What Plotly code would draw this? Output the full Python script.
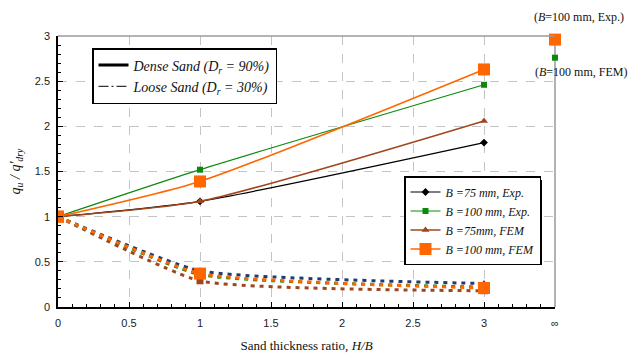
import plotly.graph_objects as go

# ---- data ----
x_ratio = [0, 1, 3]
x_inf = [3.5]

dense_b75_exp = [1.0, 1.17, 1.82]
dense_b100_exp = [1.0, 1.52, 2.46]
dense_b75_fem = [1.0, 1.17, 2.06]
dense_b100_fem = [1.0, 1.39, 2.63]

loose_b75_exp = [1.0, 0.40, 0.26]
loose_b100_exp = [1.0, 0.36, 0.22]
loose_b75_fem = [1.0, 0.29, 0.18]
loose_b100_fem = [1.0, 0.37, 0.21]

inf_b100_exp = [2.76]
inf_b100_fem = [2.96]

x_tickvals = [0, 0.5, 1, 1.5, 2, 2.5, 3, 3.5]
x_ticktext = ["0", "0.5", "1", "1.5", "2", "2.5", "3", "∞"]
y_tickvals = [0, 0.5, 1, 1.5, 2, 2.5, 3]

names = ["<i>B =75 mm, Exp.</i>", "<i>B =100 mm, Exp.</i>",
         "<i>B =75mm, FEM</i>", "<i>B =100 mm, FEM</i>"]

C_BLACK = "#000000"
C_GREEN = "#0a8a0a"
C_BROWN = "#a0461e"
C_ORANGE = "#ff6600"
C_NAVY = "#1f3c6e"
C_PURPLE = "#7a2a9a"

SERIF = "Liberation Serif"
SANS = "Liberation Sans"

# page body has an 8px margin: plot area placed at page px 58..555 x 36..307
PL, PT, PW, PH = 58, 36, 497, 271


def px(xp):
    return (xp - PL) / PW


def py(yp):
    return (PT + PH - yp) / PH


fig = go.Figure()

# loose sand (dotted, drawn first)
loose = [
    (loose_b75_exp, C_NAVY, "triangle-up", 7, C_PURPLE),
    (loose_b100_exp, C_GREEN, "square", 6, C_GREEN),
    (loose_b75_fem, C_BROWN, "square", 7, C_BROWN),
    (loose_b100_fem, C_ORANGE, "square", 12, C_ORANGE),
]
for ys, col, sym, sz, mcol in loose:
    fig.add_trace(go.Scatter(
        x=x_ratio, y=ys, mode="lines+markers", showlegend=False,
        line=dict(color=col, width=3, dash="4px,5px", shape="spline", smoothing=0.45),
        marker=dict(symbol=sym, size=sz, color=mcol)))

# dense sand (solid)
dense = [
    (dense_b75_exp, C_BLACK, "diamond", 6, 1.2, names[0]),
    (dense_b100_exp, C_GREEN, "square", 6, 1.2, names[1]),
    (dense_b75_fem, C_BROWN, "triangle-up", 7, 1.6, names[2]),
    (dense_b100_fem, C_ORANGE, "square", 12, 1.6, names[3]),
]
for ys, col, sym, sz, lw, nm in dense:
    fig.add_trace(go.Scatter(
        x=x_ratio, y=ys, mode="lines+markers", name=nm, legend="legend",
        line=dict(color=col, width=lw, shape="spline", smoothing=0.6),
        marker=dict(symbol=sym, size=sz, color=col)))

# infinity points
fig.add_trace(go.Scatter(x=x_inf, y=inf_b100_exp, mode="markers", showlegend=False,
                         marker=dict(symbol="square", size=6, color=C_GREEN), cliponaxis=False))
fig.add_trace(go.Scatter(x=x_inf, y=inf_b100_fem, mode="markers", showlegend=False,
                         marker=dict(symbol="square", size=12, color=C_ORANGE), cliponaxis=False))

# density legend (dummy entries)
fig.add_trace(go.Scatter(x=[None], y=[None], mode="lines", legend="legend2",
                         name="<i>Dense Sand (D<sub>r</sub> = 90%)</i>",
                         line=dict(color="black", width=3)))
fig.add_trace(go.Scatter(x=[None], y=[None], mode="lines", legend="legend2",
                         name="<i>Loose Sand (D<sub>r</sub> = 30%)</i>",
                         line=dict(color="black", width=1, dash="10px,3px,2px,3px")))

# frame (top & right grey)
fig.add_shape(type="line", xref="paper", yref="paper", x0=0, x1=1, y0=1, y1=1,
              line=dict(color="#9a9a9a", width=1.5))
fig.add_shape(type="line", xref="paper", yref="paper", x0=1, x1=1, y0=0, y1=1,
              line=dict(color="#9a9a9a", width=1.5), layer="below")
# shadow of series legend
fig.add_shape(type="rect", xref="paper", yref="paper",
              x0=px(408), x1=px(542), y0=py(265), y1=py(180),
              fillcolor="black", line=dict(width=0))

fig.add_annotation(x=px(579), y=py(17), xref="paper", yref="paper",
                   xanchor="center", yanchor="middle",
                   text="(<i>B</i>=100 mm, Exp.)", showarrow=False,
                   font=dict(family=SERIF, size=12, color="#111"))
fig.add_annotation(x=px(581), y=py(72), xref="paper", yref="paper",
                   xanchor="center", yanchor="middle",
                   text="(<i>B</i>=100 mm, FEM)", showarrow=False,
                   font=dict(family=SERIF, size=12, color="#111"))

fig.update_layout(
    width=630, height=348,
    margin=dict(l=PL - 8, r=630 - (PL - 8) - PW, t=PT - 8, b=348 - (PT - 8) - PH,
                autoexpand=False),
    paper_bgcolor="white", plot_bgcolor="white",
    font=dict(family=SANS, size=11, color="#1a1a1a"),
    legend=dict(x=px(404), y=py(176), xanchor="left", yanchor="top",
                bgcolor="white", bordercolor="black", borderwidth=1.5,
                font=dict(family=SERIF, size=12, color="#111"),
                itemwidth=30, tracegroupgap=0),
    legend2=dict(x=px(92), y=py(48), xanchor="left", yanchor="top",
                 bgcolor="white", bordercolor="black", borderwidth=1.5,
                 font=dict(family=SERIF, size=14, color="#111"),
                 itemwidth=30),
    xaxis=dict(range=[0, 3.5], tickvals=x_tickvals, ticktext=x_ticktext,
               showline=True, linecolor="black", linewidth=1.5,
               ticks="inside", ticklen=5, tickcolor="black",
               minor=dict(dtick=0.1, ticks="inside", ticklen=3, tickcolor="black", showgrid=False),
               showgrid=True, gridcolor="#c4c4c4", griddash="dash", gridwidth=1,
               zeroline=False, ticklabelstandoff=5, automargin=False,
               title=dict(text="Sand thickness ratio, <i>H/B</i>",
                          font=dict(family=SERIF, size=13, color="#111"), standoff=13)),
    yaxis=dict(range=[0, 3], tickvals=y_tickvals,
               showline=True, linecolor="black", linewidth=1.5,
               ticks="inside", ticklen=5, tickcolor="black",
               minor=dict(dtick=0.1, ticks="inside", ticklen=3, tickcolor="black", showgrid=False),
               showgrid=True, gridcolor="#c4c4c4", griddash="dash", gridwidth=1,
               zeroline=False, ticklabelstandoff=4, automargin=False,
               title=dict(text="<i>q<sub>u</sub> / q'<sub>dry</sub></i>",
                          font=dict(family=SERIF, size=14, color="#111"), standoff=16)),
)

fig.write_html("out.html")
